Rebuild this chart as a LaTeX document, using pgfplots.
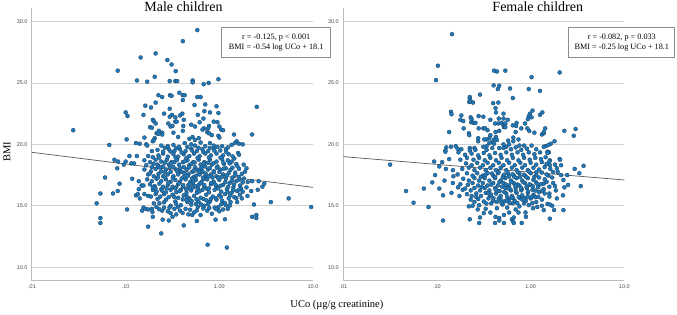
\documentclass[border=0pt]{standalone}
\usepackage{pgfplots}
\pgfplotsset{compat=1.18}
\usepackage{fontspec}
\setmainfont{Liberation Serif}
\newfontfamily\tickfont{Liberation Sans}
\definecolor{ptfill}{HTML}{1F7ABC}
\definecolor{ptedge}{HTML}{1F4462}
\definecolor{gridc}{HTML}{D2D2D2}
\definecolor{axisc}{HTML}{BDBDBD}
\pgfplotsset{panel/.style={
  scale only axis,width=281pt,height=272.7pt,
  xmin=-2,xmax=1,ymin=8.9,ymax=31.1,
  axis x line*=bottom,axis y line*=left,
  axis line style={axisc,line width=1pt,-},
  xtick={-2,-1,0,1},xticklabels={.01,.10,1.00,10.0},
  ytick={10,15,20,25,30},
  major tick length=0pt,
  ymajorgrids,grid style={gridc,line width=0.8pt},
  yticklabel style={font=\tickfont\fontsize{5.5}{6}\selectfont,text=black!70,xshift=-1pt,
    /pgf/number format/.cd,fixed,fixed zerofill,precision=1,assume math mode=true},
  xticklabel style={font=\tickfont\fontsize{5.5}{6}\selectfont,text=black!70,yshift=-0.5pt},
  label style={font=\fontsize{10.5}{12}\selectfont},
}}
\pgfplotsset{pts/.style={only marks,mark=*,mark size=2.0pt,
  mark options={fill=ptfill,draw=ptedge,line width=0.35pt}}}
\begin{document}
\begin{tikzpicture}[x=1pt,y=1pt]
\path[use as bounding box] (0,0) rectangle (677,314);
\begin{axis}[panel,at={(32pt,33.3pt)},anchor=south west,
  title={\fontsize{14}{16}\selectfont Male children},title style={at={(axis description cs:0.539,0.984)},anchor=center,yshift=0pt},
  xlabel={UCo (µg/g creatinine)},xlabel style={at={(axis description cs:1.085,-0.089)},anchor=center},
  ylabel={BMI},ylabel style={at={(axis description cs:-0.089,0.472)},anchor=center}]
% log10(UCo), BMI; the dense core is estimated
\addplot[pts] coordinates {
(-0.235,29.3)(-0.39,28.4)(-0.68,27.4)(-0.84,27.07)(-0.555,26.86)(-0.51,26.5)(-1.085,26.0)(-0.466,25.96)
(-0.88,25.2)(-0.77,25.1)(-0.69,25.5)(-0.53,25.15)(-0.47,25.15)(-0.45,25.15)(-0.285,25.2)(-0.285,25.05)
(-0.167,24.9)(-0.114,25.0)(-0.01,25.3)(-0.427,24.2)(-0.39,24.0)(-0.37,24.0)(-0.65,24.0)(-0.61,23.85)
(-0.527,24.0)(-0.51,23.95)(-0.235,23.85)(-0.2,23.85)(-0.39,23.6)(-0.68,23.4)(-0.79,23.15)(-0.73,23.0)
(-0.265,23.2)(-0.15,23.25)(-0.03,23.1)(0.40,23.05)(-0.53,22.9)(-1.0,22.6)(-0.98,22.3)(-0.59,22.5)
(-0.81,22.4)(-0.16,22.7)(-0.10,22.6)(-0.01,22.55)(-0.395,22.5)(-0.42,22.35)(-0.505,22.4)(-0.53,22.25)
(-0.47,22.2)(-0.23,22.4)(-0.38,22.0)(-0.17,22.1)(-0.71,22.0)(-0.70,21.9)(-0.68,21.7)(-0.545,21.7)
(-0.47,21.85)(-0.455,21.85)(-0.21,21.8)(-0.06,21.85)(-0.02,21.8)(-0.74,21.4)(-0.72,21.35)(-1.56,21.15)
(-0.52,21.45)(-0.50,21.5)(-0.385,21.5)(-0.39,21.1)(-0.30,21.6)(-0.26,21.45)(-0.11,21.5)(-0.12,21.3)
(-0.165,21.3)(-0.18,21.2)(0,21.45)(0.02,21.2)(0.04,21.15)(-0.645,21.1)(-0.67,20.9)(-0.61,20.95)
(-0.65,20.85)(-0.61,20.8)(-0.49,20.95)(-0.80,20.55)(-0.44,20.6)(-0.285,20.6)(-0.32,20.45)(-0.26,20.35)
(-0.22,20.5)(-0.13,21.0)(-0.11,20.9)(-0.08,20.75)(-0.01,20.7)(0,20.55)(0.157,20.8)(0.35,20.8)
(-0.99,20.4)(-0.69,20.5)(-0.71,20.25)(-0.70,20.35)(-0.89,20.1)(-0.85,20.05)(-0.78,20.0)(-0.77,19.9)
(-1.175,19.95)(0.185,20.25)(0.13,19.95)(0.165,20.1)(0.21,20.05)(0.25,20.0)
% lower outliers
(0.98,14.9)(0.74,15.6)(0.55,15.3)(0.37,15.1)(0.395,14.25)(0.395,14.0)(0.35,14.1)(-0.125,11.83)(0.08,11.6)
(-0.62,12.75)(-0.76,13.3)(-0.38,13.4)(-0.04,13.87)(0.06,13.9)(-0.605,13.87)(-0.54,13.8)(-0.24,13.76)
(-1.31,15.2)(-1.27,14.0)(-1.27,13.6)(-1.27,16.0)(-1.22,17.3)(-1.135,16.0)(-1.085,16.2)(-1.065,16.8)
(-0.985,14.7)(-0.93,17.2)(-1.12,18.75)(-1.08,18.6)(-1.09,18.05)(-1.02,18.35)(-1.0,18.6)(-0.96,19.05)
(-0.94,18.45)(-0.91,18.45)(-0.88,19.05)(-0.86,17.0)(-0.83,16.65)(-0.81,16.65)(-0.86,16.35)(-0.89,15.85)
(-0.87,15.95)(-0.85,15.6)(-0.8,15.95)(-0.76,15.8)(-0.81,14.85)(-0.825,14.6)(-0.785,14.75)(-0.76,14.7)
(-0.72,14.75)(-0.715,14.5)(-0.71,14.1)(-0.61,14.6)(-0.59,14.85)(-0.64,15.2)
(-0.50,14.1)(-0.46,14.3)(-0.42,14.6)(-0.33,14.3)(-0.29,14.25)(-0.27,14.45)(-0.20,14.25)(-0.13,14.6)(-0.08,14.35)(0.0,14.55)(0.04,14.7)(0.09,14.75)
(-0.55,14.55)(-0.52,14.4)(-0.48,14.75)(-0.36,14.75)(-0.23,14.9)(-0.16,15.0)(-0.05,14.85)(-0.01,14.9)(0.07,15.05)
(0.12,15.3)(0.19,15.3)(0.24,15.6)(0.30,15.8)(0.22,15.9)(0.16,15.7)(0.34,16.2)(0.41,16.3)(0.46,16.55)(0.48,16.8)(0.42,17.0)(0.35,17.0)(0.29,16.5)(0.25,16.15)
(0.10,15.6)(0.03,15.4)(-0.03,15.5)(-0.10,15.35)(-0.17,15.55)(-0.22,15.3)(-0.30,15.1)(-0.34,15.3)(-0.41,15.05)(-0.47,15.35)(-0.52,15.0)(-0.57,15.5)(-0.66,15.55)(-0.70,15.2)
(-0.73,15.75)(-0.68,15.95)(-0.63,15.75)(-0.59,15.95)(-0.54,15.7)(-0.50,15.9)(-0.44,15.65)(-0.38,15.85)(-0.32,15.6)(-0.27,15.8)(-0.20,15.65)(-0.14,15.9)(-0.07,15.75)(0.0,15.85)(0.06,15.95)(0.13,16.05)(0.19,16.2)
(-0.71,16.3)(-0.67,16.15)(-0.62,16.35)(-0.57,16.1)(-0.52,16.3)(-0.46,16.1)(-0.41,16.3)(-0.35,16.05)(-0.30,16.25)(-0.24,16.05)(-0.18,16.3)(-0.11,16.1)(-0.05,16.3)(0.02,16.15)(0.08,16.35)(0.15,16.5)(0.22,16.65)
(-0.74,16.75)(-0.69,16.6)(-0.64,16.8)(-0.60,16.55)(-0.55,16.7)(-0.50,16.55)(-0.44,16.75)(-0.39,16.55)(-0.33,16.7)(-0.28,16.5)(-0.22,16.7)(-0.16,16.55)(-0.09,16.75)(-0.03,16.55)(0.04,16.7)(0.11,16.85)(0.18,17.0)(0.25,16.9)
(-0.77,17.15)(-0.72,17.0)(-0.67,17.2)(-0.62,17.0)(-0.57,17.15)(-0.52,16.95)(-0.47,17.1)(-0.42,16.95)(-0.36,17.15)(-0.31,16.95)(-0.25,17.1)(-0.19,16.95)(-0.13,17.15)(-0.06,16.95)(0.0,17.1)(0.07,17.2)(0.14,17.3)(0.21,17.35)
(-0.76,17.55)(-0.70,17.4)(-0.65,17.6)(-0.60,17.4)(-0.55,17.55)(-0.49,17.4)(-0.44,17.55)(-0.38,17.35)(-0.33,17.55)(-0.27,17.35)(-0.21,17.55)(-0.15,17.4)(-0.09,17.55)(-0.03,17.4)(0.04,17.55)(0.10,17.65)(0.17,17.7)(0.24,17.6)
(-0.80,17.95)(-0.73,17.8)(-0.68,18.0)(-0.62,17.8)(-0.57,17.95)(-0.52,17.75)(-0.46,17.95)(-0.41,17.75)(-0.35,17.95)(-0.29,17.75)(-0.24,17.95)(-0.18,17.8)(-0.12,17.95)(-0.06,17.8)(0.01,17.95)(0.07,18.05)(0.14,18.1)(0.21,18.0)(0.29,18.05)
(-0.78,18.3)(-0.72,18.15)(-0.66,18.35)(-0.60,18.2)(-0.54,18.35)(-0.49,18.15)(-0.43,18.35)(-0.38,18.15)(-0.32,18.3)(-0.26,18.15)(-0.20,18.35)(-0.15,18.2)(-0.08,18.35)(-0.02,18.2)(0.05,18.4)(0.11,18.45)(0.18,18.4)(0.26,18.35)
(-0.80,18.7)(-0.74,18.55)(-0.68,18.75)(-0.62,18.6)(-0.56,18.75)(-0.51,18.55)(-0.45,18.75)(-0.39,18.55)(-0.34,18.7)(-0.28,18.55)(-0.22,18.75)(-0.16,18.55)(-0.10,18.75)(-0.03,18.6)(0.03,18.8)(0.09,18.7)(0.16,18.85)
(-0.76,19.05)(-0.71,18.95)(-0.65,19.1)(-0.60,19.25)(-0.55,19.0)(-0.49,19.2)(-0.44,19.0)(-0.38,19.2)(-0.32,19.05)(-0.27,19.25)(-0.21,19.05)(-0.15,19.25)(-0.09,19.1)(-0.03,19.25)(0.04,19.1)(0.10,19.2)(0.20,19.3)(0.21,19.15)
(-0.72,19.45)(-0.66,19.55)(-0.60,19.4)(-0.54,19.6)(-0.48,19.45)(-0.42,19.6)(-0.36,19.45)(-0.30,19.65)(-0.24,19.45)(-0.18,19.6)(-0.12,19.45)(-0.06,19.65)(0.01,19.5)(0.07,19.6)
(-0.62,19.9)(-0.55,19.85)(-0.49,19.95)(-0.43,19.8)(-0.37,20.1)(-0.3,20.0)(-0.26,19.9)(-0.2,20.15)(-0.15,19.85)(-0.1,20.1)(-0.06,19.9)(-0.02,19.8)(0.03,19.85)(0.09,19.75)
(-0.35,15.45)(-0.25,15.15)(-0.12,15.15)(-0.46,16.5)(-0.28,16.9)(-0.16,17.2)(-0.40,17.75)(-0.20,18.0)(-0.48,18.55)(-0.30,18.4)(-0.12,18.5)(0.00,17.75)(-0.58,17.3)(-0.65,18.2)(-0.35,16.4)(-0.23,16.45)
% further estimated points in the dense band
(-0.71,16.52)(-0.655,17.31)(-0.612,16.23)(-0.583,17.72)(-0.541,16.88)(-0.528,18.14)(-0.497,17.27)(-0.473,16.43)(-0.452,17.83)(-0.433,16.83)(-0.418,18.07)(-0.402,17.22)(-0.386,16.68)(-0.371,17.64)(-0.352,16.31)(-0.338,17.41)(-0.322,18.12)(-0.307,16.77)(-0.291,17.23)(-0.275,17.87)(-0.261,16.62)(-0.248,17.44)(-0.233,16.28)(-0.217,17.76)(-0.203,16.84)(-0.188,18.09)(-0.174,17.28)(-0.162,16.69)(-0.147,17.62)(-0.131,16.37)(-0.117,17.38)(-0.102,18.06)(-0.088,16.86)(-0.073,17.29)(-0.058,17.74)(-0.041,16.72)(-0.027,18.1)(-0.012,17.26)(0.012,16.63)(0.028,17.36)(0.046,18.02)(0.063,16.92)(0.078,17.47)(0.094,16.54)(0.118,17.91)(0.133,17.04)(0.155,16.71)(0.171,17.52)(0.193,18.22)(0.216,17.13)(0.231,16.42)(0.262,17.22)(0.275,17.78)(0.303,16.94)
(-0.742,17.62)(-0.682,16.42)(-0.634,18.12)(-0.591,15.28)(-0.562,16.42)(-0.511,18.47)(-0.483,15.72)(-0.463,15.18)(-0.424,16.19)(-0.391,15.52)(-0.369,18.62)(-0.345,15.72)(-0.312,16.41)(-0.296,15.38)(-0.263,18.52)(-0.243,15.52)(-0.212,16.17)(-0.193,15.09)(-0.166,18.44)(-0.138,15.44)(-0.112,16.42)(-0.091,15.55)(-0.062,18.46)(-0.037,15.62)(-0.013,16.42)(0.017,15.73)(0.042,18.52)(0.058,15.22)(0.087,16.12)(0.116,15.84)(0.148,16.28)(0.182,15.63)(0.213,16.32)
(-0.702,18.42)(-0.642,18.92)(-0.582,18.52)(-0.522,19.42)(-0.468,18.92)(-0.402,19.33)(-0.352,18.88)(-0.292,19.5)(-0.232,18.9)(-0.172,19.38)(-0.112,18.93)(-0.052,19.48)(0.012,18.92)(0.074,19.38)(0.132,18.6)(0.142,19.02)(-0.582,19.72)(-0.462,19.68)(-0.342,19.78)(-0.222,19.72)(-0.102,19.7)
(-0.532,14.85)(-0.442,14.92)(-0.392,14.42)(-0.312,14.68)(-0.242,14.62)(-0.172,14.78)(-0.108,14.82)(-0.032,14.72)(0.022,15.12)(0.112,15.02)(-0.672,14.9)(-0.642,14.72)
};
\addplot[color=black!65,line width=0.7pt,no marks] coordinates {(-2,19.35)(1,16.5)};
\end{axis}
\begin{axis}[panel,at={(343.3pt,33.3pt)},anchor=south west,
  title={\fontsize{14}{16}\selectfont Female children},title style={at={(axis description cs:0.692,0.984)},anchor=center,yshift=0pt}]
\addplot[pts] coordinates {
(-0.84,28.97)(-0.99,26.4)(-1.01,25.23)(-0.39,26.0)(-0.36,25.93)(-0.27,26.0)(0.31,25.85)(0.01,25.47)
(-0.395,24.8)(-0.335,24.77)(-0.35,24.5)(-0.22,24.55)(-0.02,24.5)(0.10,24.35)(-0.54,24.05)(-0.19,23.77)
(-0.65,23.85)(-0.65,23.7)(-0.655,23.45)(-0.64,23.5)(-0.615,23.4)(-0.4,23.35)(-0.345,23.4)(-0.375,22.95)
(-0.37,22.6)(-0.85,22.65)(-0.845,22.45)(0.02,22.75)(-0.007,22.5)(-0.02,22.3)(-0.03,22.05)(0.01,22.2)
(0.125,22.6)(0.10,22.4)(-0.74,22.35)(-0.75,22.0)(-0.72,21.9)(-0.64,22.2)(-0.63,22.05)(-0.635,21.8)
(-0.61,21.75)(-0.59,21.75)(-0.555,22.3)(-0.505,22.25)(-0.43,22.0)(-0.34,22.1)(-0.29,22.5)(-0.29,22.1)
(-0.245,22.0)(-0.38,21.7)(-0.345,21.7)(-0.31,21.75)(-0.29,21.55)(-0.27,21.7)(-0.715,21.3)(-0.555,21.3)
(-0.505,21.3)(-0.485,21.3)(-0.46,21.15)(-0.87,21.0)(-0.66,20.9)(-0.655,20.75)(-0.375,21.0)(-0.335,21.1)
(-0.285,21.4)(-0.27,21.4)(-0.19,21.55)(-0.15,21.75)(-0.155,21.5)(-0.16,21.0)(-0.10,21.3)(-0.06,21.7)
(-0.035,21.3)(-0.015,21.1)(0.04,20.95)(0.12,20.8)(0.14,20.9)(0.155,21.3)(0.14,21.0)(0.36,21.1)(0.48,21.25)
(0.46,20.7)(0.255,20.25)(0.215,20.05)(0.19,19.95)(0.16,19.85)(0.14,19.8)(0.18,19.4)(0.195,19.35)(0.01,19.9)
(-0.13,20.4)(-0.185,20.55)(-0.185,20.25)(-0.07,19.9)(-0.12,19.9)(-0.24,20.3)(-0.23,20.0)(-0.43,20.75)
(-0.44,20.5)(-0.47,20.4)(-0.495,20.4)(-0.56,20.5)(-0.56,20.25)(-0.37,20.6)(-0.39,20.4)(-0.36,20.35)
(-0.41,20.2)(-0.44,20.1)(-0.39,20.05)(-0.47,19.85)(-0.505,19.8)(-0.9,19.75)(-0.91,19.5)(-0.85,19.8)
(-0.8,19.85)(-0.78,19.65)(-0.74,19.6)(-0.77,19.35)(-0.65,19.7)(-0.6,19.7)(-0.59,19.55)(-0.65,19.5)
(-0.335,19.7)(-0.29,20.0)(-0.26,19.8)(-0.29,19.7)(0.31,18.8)(0.205,18.7)
(-1.5,18.35)(-1.33,16.2)(-1.25,15.25)(-1.14,16.4)(-1.09,14.9)(-1.05,16.9)(-1.02,17.5)(-0.975,16.4)
(-1.03,18.6)(-0.975,18.2)(-0.945,18.55)(-0.905,18.0)(-0.92,17.05)(-0.935,15.85)(-0.935,13.8)
(-0.845,16.05)(-0.83,16.85)(-0.825,17.4)(-0.78,17.55)(-0.83,17.9)(-0.87,18.8)(-0.91,19.4)
(-0.775,16.5)(-0.75,16.75)(-0.76,15.8)(-0.725,16.3)(-0.65,13.9)(-0.55,13.6)(-0.54,14.05)(-0.5,14.4)
(-0.565,14.7)(-0.66,14.95)(-0.43,14.45)(-0.38,13.6)(-0.375,14.1)(-0.335,14.0)(-0.335,13.8)(-0.285,13.6)
(-0.285,14.25)(-0.23,14.45)(-0.2,13.9)(-0.18,14.05)(-0.19,13.75)(-0.18,13.6)(-0.095,13.6)(-0.05,14.1)
(-0.055,14.45)(-0.13,14.45)(-0.16,14.7)(0.205,13.95)(0.14,14.65)(0.25,14.65)(0.35,14.65)
(0.025,14.8)(0.07,14.9)(0.12,15.0)(0.18,15.15)(0.205,15.1)(0.23,15.0)(0.28,15.6)(0.345,15.85)(0.27,16.25)
(0.2,16.0)(0.2,15.75)(0.535,16.6)(0.4,16.7)(0.36,16.5)(0.35,17.1)(0.325,17.5)(0.47,18.0)(0.52,17.65)
(0.565,18.25)(0.39,17.5)(0.315,18.75)(0.325,18.3)(0.26,18.35)(0.28,18.05)(0.29,17.75)(0.2,18.6)
(0.205,18.3)(0.18,19.3)(0.24,16.85)(0.19,17.45)(0.14,16.8)
% dense core, estimated
(-0.62,15.0)(-0.55,15.05)(-0.48,14.75)(-0.42,15.2)(-0.36,14.8)(-0.3,15.1)(-0.25,14.85)(-0.19,15.2)(-0.12,14.95)(-0.07,15.2)(-0.02,15.05)(0.06,15.3)
(-0.64,15.5)(-0.6,15.3)(-0.56,15.55)(-0.5,15.35)(-0.45,15.6)(-0.4,15.4)(-0.34,15.6)(-0.28,15.35)(-0.23,15.55)(-0.17,15.4)(-0.11,15.6)(-0.05,15.4)(0.0,15.6)(0.05,15.7)(0.12,15.5)
(-0.68,15.95)(-0.63,15.8)(-0.58,16.0)(-0.53,15.8)(-0.48,16.05)(-0.43,15.85)(-0.37,16.0)(-0.32,15.8)(-0.26,16.0)(-0.2,15.8)(-0.15,16.05)(-0.09,15.85)(-0.03,16.05)(0.03,15.9)(0.09,16.1)(0.15,16.0)
(-0.7,16.4)(-0.64,16.25)(-0.6,16.45)(-0.54,16.25)(-0.49,16.45)(-0.44,16.25)(-0.38,16.45)(-0.33,16.2)(-0.27,16.45)(-0.21,16.25)(-0.16,16.45)(-0.1,16.25)(-0.04,16.45)(0.02,16.3)(0.08,16.5)(0.14,16.35)(0.2,16.55)
(-0.67,16.7)(-0.62,16.85)(-0.56,16.65)(-0.51,16.85)(-0.46,16.65)(-0.4,16.85)(-0.35,16.65)(-0.29,16.85)(-0.23,16.65)(-0.18,16.85)(-0.12,16.65)(-0.06,16.85)(0.0,16.7)(0.06,16.9)(0.11,16.75)(0.17,16.95)(0.26,16.6)
(-0.72,17.2)(-0.66,17.05)(-0.6,17.25)(-0.55,17.05)(-0.49,17.25)(-0.44,17.05)(-0.38,17.25)(-0.32,17.05)(-0.27,17.25)(-0.21,17.05)(-0.15,17.25)(-0.09,17.05)(-0.03,17.25)(0.03,17.1)(0.09,17.3)(0.15,17.15)(0.23,17.3)
(-0.68,17.65)(-0.62,17.45)(-0.57,17.65)(-0.51,17.45)(-0.46,17.65)(-0.4,17.45)(-0.35,17.65)(-0.29,17.45)(-0.24,17.65)(-0.18,17.45)(-0.12,17.65)(-0.06,17.45)(0.0,17.65)(0.06,17.5)(0.12,17.7)(0.17,17.55)(0.24,17.75)
(-0.73,18.0)(-0.66,18.1)(-0.6,17.9)(-0.54,18.1)(-0.48,17.9)(-0.43,18.1)(-0.37,17.9)(-0.32,18.1)(-0.26,17.9)(-0.2,18.1)(-0.15,17.9)(-0.09,18.1)(-0.03,17.9)(0.03,18.1)(0.09,17.95)(0.15,18.15)(0.21,18.0)
(-0.69,18.45)(-0.63,18.3)(-0.57,18.5)(-0.51,18.3)(-0.46,18.5)(-0.4,18.3)(-0.34,18.5)(-0.29,18.3)(-0.23,18.5)(-0.17,18.3)(-0.11,18.5)(-0.06,18.3)(0.0,18.5)(0.06,18.35)(0.12,18.55)(0.17,18.4)
(-0.75,18.75)(-0.68,18.9)(-0.61,18.75)(-0.55,18.9)(-0.49,18.7)(-0.43,18.9)(-0.37,18.7)(-0.31,18.9)(-0.25,18.7)(-0.19,18.9)(-0.13,18.7)(-0.07,18.9)(-0.01,18.75)(0.05,18.9)(0.11,18.8)(0.16,18.95)
(-0.7,19.15)(-0.63,19.25)(-0.56,19.1)(-0.5,19.3)(-0.44,19.1)(-0.38,19.3)(-0.32,19.15)(-0.26,19.35)(-0.2,19.15)(-0.14,19.35)(-0.08,19.15)(-0.02,19.35)(0.04,19.2)(0.1,19.35)
(-0.47,19.55)(-0.41,19.7)(-0.21,19.6)(-0.16,19.75)(-0.1,19.55)(-0.04,19.65)(0.06,19.6)
% further estimated points in the dense band
(-0.452,16.02)(-0.421,16.72)(-0.397,15.62)(-0.378,17.34)(-0.352,16.18)(-0.333,16.93)(-0.318,15.48)(-0.297,17.32)(-0.283,16.12)(-0.264,16.73)(-0.251,15.72)(-0.233,17.38)(-0.219,16.34)(-0.204,16.94)(-0.187,15.62)(-0.172,17.34)(-0.158,16.18)(-0.141,16.73)(-0.127,15.72)(-0.113,17.36)(-0.095,16.34)(-0.078,16.92)(-0.064,15.62)(-0.047,17.33)(-0.028,16.17)(-0.012,16.74)(0.013,15.72)(0.038,17.34)(0.052,16.24)(0.072,16.78)
(-0.532,17.34)(-0.483,17.52)(-0.424,15.92)(-0.372,16.32)(-0.341,17.74)(-0.305,16.55)(-0.281,17.54)(-0.242,16.42)(-0.225,15.22)(-0.193,17.56)(-0.163,16.62)(-0.137,17.72)(-0.102,16.44)(-0.071,17.53)(-0.043,16.54)(-0.016,17.78)(0.024,16.58)(0.061,17.74)
(-0.582,15.72)(-0.522,16.52)(-0.472,15.18)(-0.412,17.62)(-0.362,15.32)(-0.312,15.24)(-0.252,15.42)(-0.202,15.64)(-0.142,15.22)(-0.082,15.48)(-0.032,15.74)(0.018,15.22)(0.082,15.72)(0.122,16.22)
};
\addplot[color=black!65,line width=0.7pt,no marks] coordinates {(-2,19.0)(1,17.1)};
\end{axis}
\node[draw=black!45,fill=white,line width=0.7pt,minimum width=109pt,minimum height=30pt,inner sep=0pt,align=center,
  font=\fontsize{8.2}{9.8}\selectfont] at (276.2,271.7) {r = -0.125, p < 0.001\\BMI = -0.54 log UCo + 18.1};
\node[draw=black!45,fill=white,line width=0.7pt,minimum width=106pt,minimum height=29.5pt,inner sep=0pt,align=center,
  font=\fontsize{8.2}{9.8}\selectfont] at (621.8,271.5) {r = -0.082, p = 0.033\\BMI = -0.25 log UCo + 18.1};
\end{tikzpicture}
\end{document}
